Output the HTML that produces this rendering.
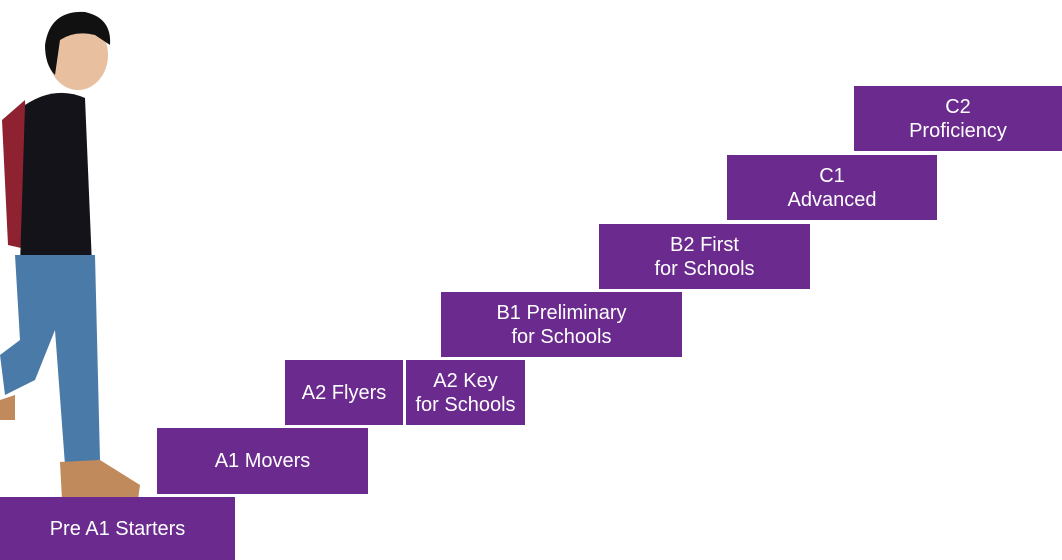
<!DOCTYPE html>
<html><head><style>
body{margin:0;width:1062px;height:560px;background:#fff;position:relative;overflow:hidden;font-family:"Liberation Sans",sans-serif}
.b{position:absolute;background:#6b2b8e;color:#fff;display:flex;align-items:center;justify-content:center;text-align:center;font-size:20px;line-height:24px}
</style></head><body>
<svg style="position:absolute;left:0;top:0" width="160" height="510">
<path d="M2,120 L25,100 L30,250 L8,245 Z" fill="#8f2230"/>
<ellipse cx="78" cy="55" rx="30" ry="35" fill="#e8c0a0"/>
<path d="M45,45 Q50,10 85,12 Q112,18 110,45 L95,35 Q75,30 60,40 L55,75 Q45,65 45,45Z" fill="#111"/>
<path d="M25,105 Q55,85 85,98 L92,265 L20,265 Z" fill="#15131a"/>
<path d="M15,255 L95,255 L100,460 L65,465 L55,330 L35,380 L5,395 L0,355 L20,340 Z" fill="#4a7aa8"/>
<path d="M60,462 L100,460 L140,485 L138,500 L62,500 Z" fill="#c08a5c"/>
<path d="M0,400 L15,395 L15,420 L0,420Z" fill="#c08a5c"/>
</svg>
<div class="b" style="left:0;top:497px;width:235px;height:63px">Pre A1 Starters</div>
<div class="b" style="left:157px;top:428px;width:211px;height:66px">A1 Movers</div>
<div class="b" style="left:285px;top:360px;width:118px;height:65px">A2 Flyers</div>
<div class="b" style="left:406px;top:360px;width:119px;height:65px">A2 Key<br>for Schools</div>
<div class="b" style="left:441px;top:292px;width:241px;height:65px">B1 Preliminary<br>for Schools</div>
<div class="b" style="left:599px;top:224px;width:211px;height:65px">B2 First<br>for Schools</div>
<div class="b" style="left:727px;top:155px;width:210px;height:65px">C1<br>Advanced</div>
<div class="b" style="left:854px;top:86px;width:208px;height:65px">C2<br>Proficiency</div>
</body></html>
